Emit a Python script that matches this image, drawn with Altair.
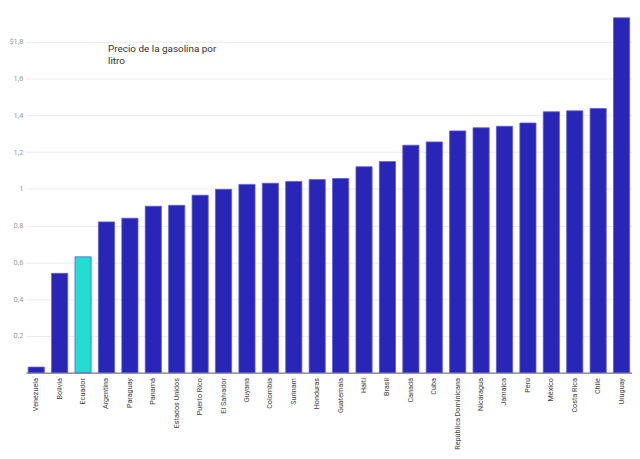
import altair as alt
import pandas as pd

countries = ["Venezuela", "Bolivia", "Ecuador", "Argentina", "Paraguay", "Panamá",
             "Estados Unidos", "Puerto Rico", "El Salvador", "Guyana", "Colombia",
             "Surinam", "Honduras", "Guatemala", "Haití", "Brasil", "Canadá", "Cuba",
             "República Dominicana", "Nicaragua", "Jamaica", "Perú", "México",
             "Costa Rica", "Chile", "Uruguay"]
prices = [0.03, 0.54, 0.63, 0.82, 0.84, 0.905, 0.91, 0.965, 0.997, 1.024, 1.03,
          1.04, 1.05, 1.056, 1.12, 1.148, 1.237, 1.255, 1.315, 1.332, 1.34, 1.358,
          1.419, 1.424, 1.437, 1.93]
highlight = ["Ecuador"]
y_ticks = [0.2, 0.4, 0.6, 0.8, 1.0, 1.2, 1.4, 1.6, 1.8]
title_lines = ["Precio de la gasolina por", "litro"]

df = pd.DataFrame({"pais": countries, "precio": prices})
df["destacado"] = df["pais"].isin(highlight)

bars = alt.Chart(df).mark_bar(stroke="#5f5bd8", strokeWidth=0.8).encode(
    x=alt.X("pais:N", sort=countries, title=None,
            scale=alt.Scale(paddingInner=0.31, paddingOuter=0.1),
            axis=alt.Axis(labelAngle=-90, labelFontSize=7.3, labelColor="#444",
                          labelPadding=5, ticks=False, domainColor="#555",
                          domainWidth=1, labelFont="Roboto", labelLimit=200)),
    y=alt.Y("precio:Q", title=None,
            scale=alt.Scale(domain=[0, 1.972], nice=False, zero=True),
            axis=alt.Axis(values=y_ticks, labelFontSize=7.5, labelColor="#999",
                          labelFont="Roboto", ticks=False, domain=False,
                          gridColor="#ebebeb", labelPadding=3,
                          labelExpr="datum.value == 1.8 ? '$1,8' : replace(format(datum.value, '.1~f'), '.', ',')")),
    color=alt.Color("destacado:N", legend=None,
                    scale=alt.Scale(domain=[False, True], range=["#2925b6", "#22ddd0"])),
)

title = alt.Chart(pd.DataFrame({"t": [title_lines]})).mark_text(
    align="left", baseline="top", fontSize=10, color="#333", font="Roboto",
    lineHeight=12.5
).encode(text="t", x=alt.value(83), y=alt.value(34))

chart = alt.layer(bars, title).properties(
    width=612, height=366, padding={"left": 0, "right": 0, "top": 0, "bottom": 0}
).configure_view(stroke=None)

chart.save("out.html", embed_options={"renderer": "svg", "actions": False})
